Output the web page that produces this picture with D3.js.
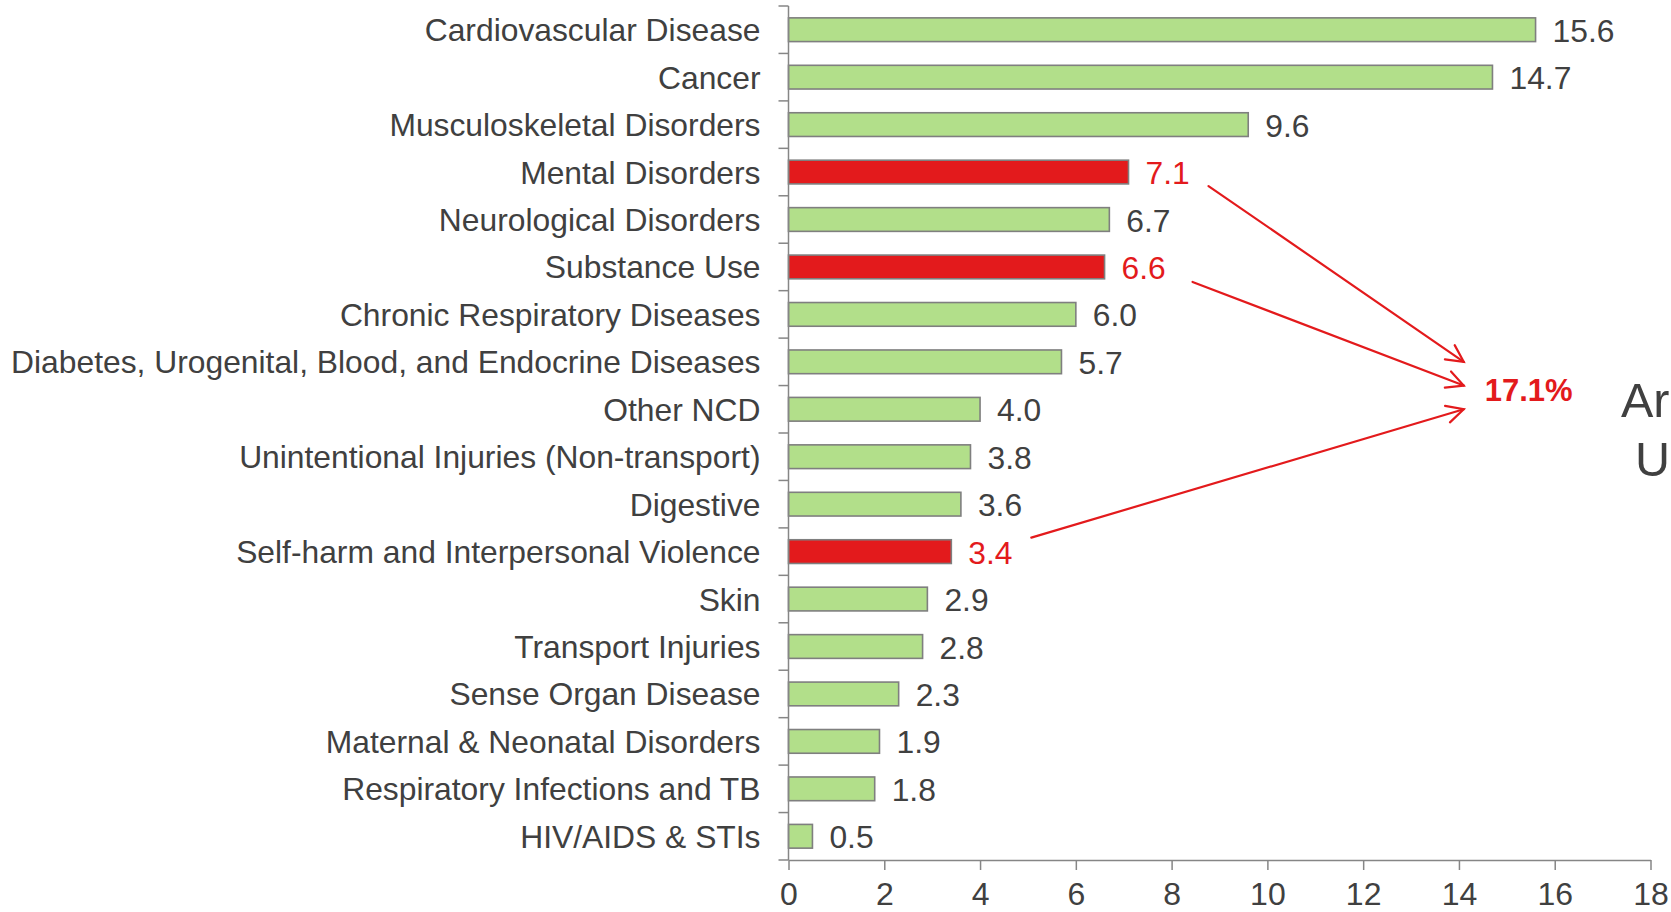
<!DOCTYPE html>
<html>
<head>
<meta charset="utf-8">
<script src="https://cdn.jsdelivr.net/npm/d3@7"></script>
<style>
  html, body { margin: 0; padding: 0; background: #ffffff; overflow: hidden; }
  svg { display: block; font-family: Arial, "Liberation Sans", sans-serif; }
</style>
</head>
<body>
<svg id="chart" width="1671" height="912"></svg>
<script>
// ---- data ----
const categories = [
  "Cardiovascular Disease",
  "Cancer",
  "Musculoskeletal Disorders",
  "Mental Disorders",
  "Neurological Disorders",
  "Substance Use",
  "Chronic Respiratory Diseases",
  "Diabetes, Urogenital, Blood, and Endocrine Diseases",
  "Other NCD",
  "Unintentional Injuries (Non-transport)",
  "Digestive",
  "Self-harm and Interpersonal Violence",
  "Skin",
  "Transport Injuries",
  "Sense Organ Disease",
  "Maternal & Neonatal Disorders",
  "Respiratory Infections and TB",
  "HIV/AIDS & STIs"
];
const values = [15.6, 14.7, 9.6, 7.1, 6.7, 6.6, 6.0, 5.7, 4.0, 3.8, 3.6, 3.4, 2.9, 2.8, 2.3, 1.9, 1.8, 0.5];
const highlighted = ["Mental Disorders", "Substance Use", "Self-harm and Interpersonal Violence"];
const xTicks = [0, 2, 4, 6, 8, 10, 12, 14, 16, 18];
const totalLabel = "17.1%";
const sideTextLines = ["Ar", "U"];

// ---- styles ----
const GREEN = "#b2df8a", RED = "#e31a1c", TEXT = "#404040", AXIS = "#868686", BAR_STROKE = "#7f7f7f";
const FONT = 31.8;

const svg = d3.select("#chart");
const x = d3.scaleLinear().domain([0, 18]).range([788.5, 1650.5]);
const y = d3.scaleBand().domain(categories).range([6, 860]).paddingInner(0.5).paddingOuter(0.25);
const data = categories.map((c, i) => ({ cat: c, value: values[i], hi: highlighted.includes(c) }));
const cy = c => y(c) + y.bandwidth() / 2;

// bars
svg.append("g").selectAll("rect").data(data).join("rect")
  .attr("x", x(0))
  .attr("y", d => y(d.cat))
  .attr("width", d => x(d.value) - x(0))
  .attr("height", y.bandwidth())
  .attr("fill", d => d.hi ? RED : GREEN)
  .attr("stroke", BAR_STROKE)
  .attr("stroke-width", 1.6);

// y axis (custom: ticks at band boundaries)
const gy = svg.append("g").attr("stroke", AXIS).attr("stroke-width", 1.5);
const boundaries = categories.map(c => y(c) - y.step() * y.paddingInner() / 2).concat([y.range()[1]]);
gy.append("line").attr("x1", x(0)).attr("x2", x(0)).attr("y1", y.range()[0]).attr("y2", y.range()[1]);
gy.selectAll("line.tick").data(boundaries).join("line").attr("class", "tick")
  .attr("x1", x(0) - 10).attr("x2", x(0)).attr("y1", d => d).attr("y2", d => d);

// category labels
svg.append("g").selectAll("text").data(data).join("text")
  .attr("x", x(0) - 28)
  .attr("y", d => cy(d.cat) + 11.5)
  .attr("text-anchor", "end")
  .attr("font-size", FONT)
  .attr("fill", TEXT)
  .text(d => d.cat);

// value labels
svg.append("g").selectAll("text").data(data).join("text")
  .attr("x", d => x(d.value) + 17)
  .attr("y", d => cy(d.cat) + 12)
  .attr("font-size", FONT)
  .attr("fill", d => d.hi ? RED : TEXT)
  .text(d => d3.format(".1f")(d.value));

// x axis
const gx = svg.append("g").attr("transform", `translate(0,${y.range()[1]})`)
  .call(d3.axisBottom(x).tickValues(xTicks).tickSize(10).tickSizeOuter(0).tickPadding(12));
gx.select(".domain").attr("stroke", AXIS).attr("stroke-width", 1.5);
gx.selectAll(".tick line").attr("stroke", AXIS).attr("stroke-width", 1.5);
gx.selectAll(".tick text").attr("font-size", 32).attr("fill", TEXT)
  .attr("font-family", "Arial, 'Liberation Sans', sans-serif");

// annotation arrows
const tipX = x(14.1);
const bY7 = cy(categories[7]), bY8 = cy(categories[8]);
const arrows = [
  { cat: categories[3], dx: 80, dy: 14, ty: bY7 },
  { cat: categories[5], dx: 88, dy: 15, ty: (bY7 + bY8) / 2 },
  { cat: categories[11], dx: 80, dy: -14, ty: bY8 }
];
const ga = svg.append("g").attr("stroke", RED).attr("stroke-width", 2.2).attr("fill", "none")
  .attr("stroke-linecap", "round");
arrows.forEach(a => {
  const v = values[categories.indexOf(a.cat)];
  const x1 = x(v) + a.dx, y1 = cy(a.cat) + a.dy, x2 = tipX, y2 = a.ty;
  const ang = Math.atan2(y2 - y1, x2 - x1);
  const L = 19, h = 27 * Math.PI / 180;
  ga.append("line").attr("x1", x1).attr("y1", y1).attr("x2", x2).attr("y2", y2);
  const p = d3.path();
  p.moveTo(x2 - L * Math.cos(ang - h), y2 - L * Math.sin(ang - h));
  p.lineTo(x2, y2);
  p.lineTo(x2 - L * Math.cos(ang + h), y2 - L * Math.sin(ang + h));
  ga.append("path").attr("d", p.toString()).attr("stroke-linejoin", "miter");
});

svg.append("text")
  .attr("x", tipX + 21)
  .attr("y", (bY7 + bY8) / 2 + 15.5)
  .attr("font-size", 31)
  .attr("font-weight", "bold")
  .attr("fill", RED)
  .text(totalLabel);

// side text at the right edge
svg.append("text").attr("x", 1621).attr("y", 417).attr("font-size", 48.5).attr("fill", TEXT).text(sideTextLines[0]);
svg.append("text").attr("x", 1635).attr("y", 476).attr("font-size", 48.5).attr("fill", TEXT).text(sideTextLines[1]);
</script>
</body>
</html>
